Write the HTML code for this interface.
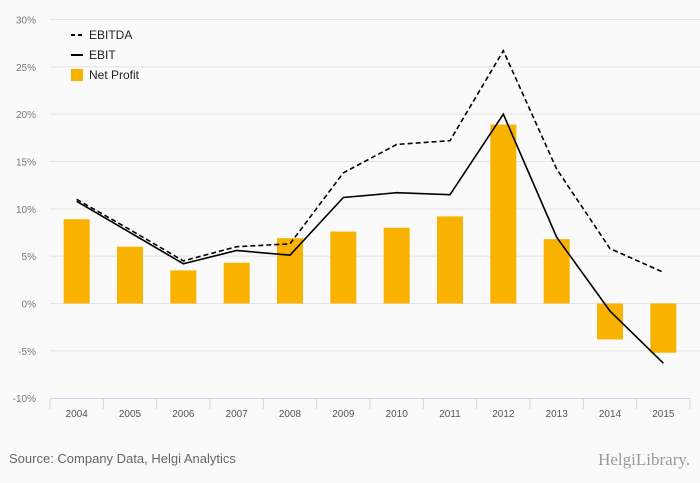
<!DOCTYPE html>
<html><head><meta charset="utf-8"><style>
body{margin:0;background:#fafafa;}
svg{display:block;font-family:"Liberation Sans",sans-serif;}
</style></head><body>
<svg id="c" width="700" height="483">
<rect width="700" height="483" fill="#fafafa"/>
</svg>
<script>
const years=["2004","2005","2006","2007","2008","2009","2010","2011","2012","2013","2014","2015"];
const ebitda=[11.0,7.8,4.5,6.0,6.3,13.8,16.8,17.2,26.7,14.2,5.8,3.3];
const ebit=[10.8,7.5,4.2,5.6,5.1,11.2,11.7,11.5,20.0,7.0,-0.8,-6.3];
const netProfit=[8.9,6.0,3.5,4.3,6.9,7.6,8.0,9.2,18.9,6.8,-3.8,-5.2];
const yTicks=[-10,-5,0,5,10,15,20,25,30];
const svg=document.getElementById('c');
const NS='http://www.w3.org/2000/svg';
const x0=50,x1=690,band=(x1-x0)/years.length;
const y=v=>303.5-v*9.467;
const xc=i=>x0+band*(i+0.5);
function el(t,a,p){const e=document.createElementNS(NS,t);for(const k in a)e.setAttribute(k,a[k]);(p||svg).appendChild(e);return e;}
yTicks.forEach(t=>{
  if(t>-10){const g=el('line',{x1:x0,x2:700,y1:y(t),y2:y(t),stroke:'#e4e4e4','stroke-width':1});
  
  }
  const l=el('text',{x:36,y:y(t)+4,'text-anchor':'end','font-size':10,fill:'#777'});
  l.textContent=t+'%';
  
  
});
const ax=el('line',{x1:x0,x2:x1,y1:398.5,y2:398.5,stroke:'#ccd6eb'});


for(let i=0;i<=years.length;i++){const tk=el('line',{x1:x0+band*i,x2:x0+band*i,y1:398.5,y2:409,stroke:'#ccd6eb'});

}
years.forEach((yr,i)=>{const t=el('text',{x:xc(i),y:417,'text-anchor':'middle','font-size':10,fill:'#555'});t.textContent=yr;

});
netProfit.forEach((v,i)=>{const top=Math.min(y(v),y(0)),h=Math.abs(y(v)-y(0));
const b=el('rect',{x:xc(i)-13,y:top,width:26,height:h,fill:'#f9b200'});

});
function line(d,dash,name){const p=el('polyline',{points:d.map((v,i)=>xc(i)+','+y(v)).join(' '),fill:'none',stroke:'#000','stroke-width':1.6,'stroke-dasharray':dash});

}
line(ebitda,'5,3','line-ebitda');
line(ebit,'none','line-ebit');
const lg=el('g',{});


[['EBITDA','d'],['EBIT','s'],['Net Profit','b']].forEach((e,i)=>{const yy=35+i*20;
if(e[1]==='b')el('rect',{x:71,y:yy-6,width:12,height:12,fill:'#f9b200'},lg);
else el('line',{x1:71,x2:83,y1:yy,y2:yy,stroke:'#000','stroke-width':2,'stroke-dasharray':e[1]==='d'?'4,3':'none'},lg);
const t=el('text',{x:89,y:yy+4,'font-size':12,fill:'#222'},lg);t.textContent=e[0];

});
const s=el('text',{x:9,y:463,'font-size':13,fill:'#666'});s.textContent='Source: Company Data, Helgi Analytics';


const h=el('text',{x:690,y:465,'text-anchor':'end','font-size':17,fill:'#999','font-family':'Liberation Serif,serif'});h.textContent='HelgiLibrary.';


</script>
</body></html>
